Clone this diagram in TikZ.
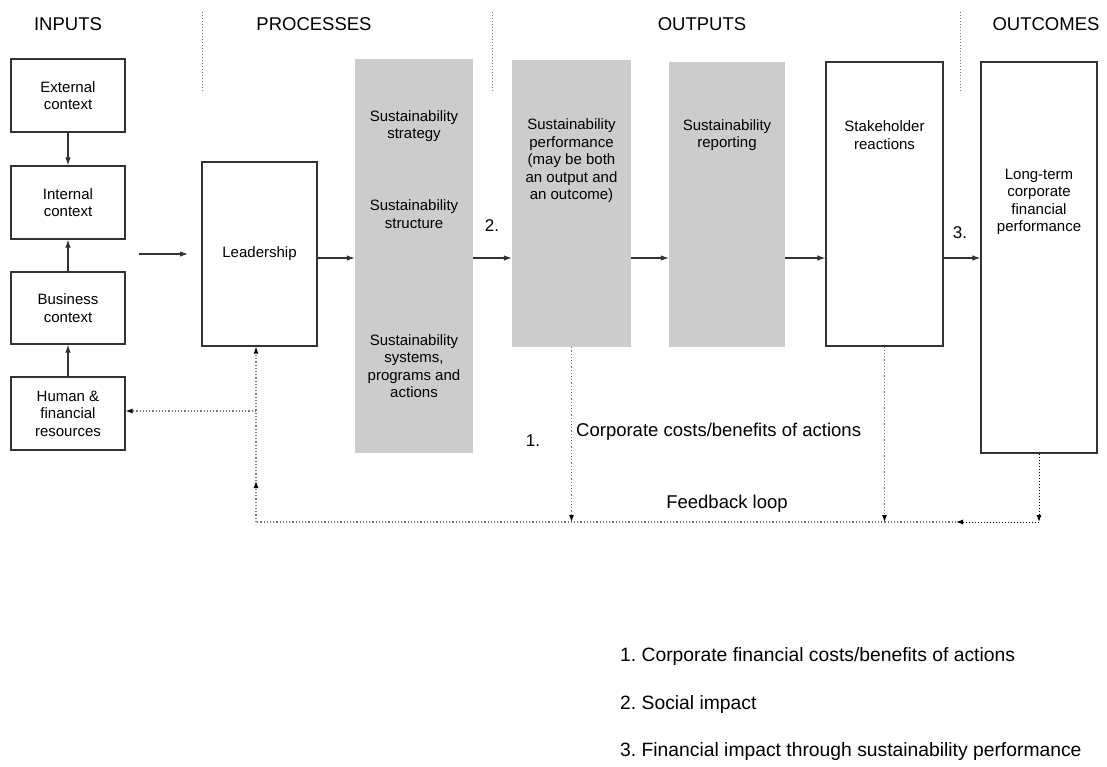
\documentclass[tikz,border=0pt]{standalone}
\usepackage{fontspec}
\setmainfont{Liberation Sans}
\usetikzlibrary{arrows.meta}
\frenchspacing
\definecolor{boxline}{HTML}{333333}
\definecolor{grayfill}{HTML}{CCCCCC}
\definecolor{dotgray}{HTML}{777777}
\tikzset{
  box/.style={draw=boxline, line width=1.2pt, fill=white, inner sep=0pt, align=center,
    font=\fontsize{15}{17.5}\selectfont},
  graybox/.style={fill=grayfill, draw=none, inner sep=0pt},
  btext/.style={align=center, inner sep=0pt, font=\fontsize{15}{17.5}\selectfont},
  heading/.style={inner sep=0pt, font=\fontsize{18.5}{22}\selectfont},
  bigtext/.style={inner sep=0pt, font=\fontsize{18.5}{22}\selectfont},
  numtext/.style={inner sep=0pt, font=\fontsize{17}{20}\selectfont},
  legend/.style={inner sep=0pt, anchor=west, font=\fontsize{19.3}{22}\selectfont},
  arr/.style={-{Latex[length=8pt,width=5.5pt]}, line width=1.1pt, draw=boxline},
  dotline/.style={draw=dotgray, line width=1.1pt, dash pattern=on 1.2pt off 2pt},
  dotblack/.style={draw=black, line width=1pt, dash pattern=on 1.2pt off 1.8pt},
  darr/.style={-{Latex[length=7pt,width=5pt,color=black]}},
  sep/.style={draw=dotgray, line width=1pt, dash pattern=on 1pt off 2pt}
}
\begin{document}
\begin{tikzpicture}[x=1pt,y=-1pt]
\useasboundingbox (0,0) rectangle (1107,767);

% headings
\node[heading] (hin) at (68,24) {INPUTS};
\node[heading] (hpr) at (314,24) {PROCESSES};
\node[heading] (hout) at (702,24) {OUTPUTS};
\node[heading] (hoc) at (1046,24) {OUTCOMES};
\draw[sep] (202,12) -- (202,93);
\draw[sep] (492,12) -- (492,93);
\draw[sep] (960,12) -- (960,93);

% inputs
\node[box, minimum width=114, minimum height=73] (ext) at (68,95.5) {External\\context};
\node[box, minimum width=114, minimum height=73] (int) at (68,202.5) {Internal\\context};
\node[box, minimum width=114, minimum height=72] (bus) at (68,308) {Business\\context};
\node[box, minimum width=114, minimum height=73] (hum) at (68,413.5) {Human \&\\financial\\resources};

\draw[arr] (ext) -- (int);
\draw[arr] (bus) -- (int);
\draw[arr] (hum) -- (bus);

\coordinate (fa) at (139,254);
\coordinate (fb) at (188,254);
\draw[arr] (fa) -- (fb);

% processes
\node[box, minimum width=115, minimum height=184] (lead) at (259.5,254) {Leadership};
\node[graybox, minimum width=118, minimum height=394] (g1) at (414,256) {};
\node[btext] (t1a) at (414,126) {Sustainability\\strategy};
\node[btext] (t1b) at (414,214) {Sustainability\\structure};
\node[btext] (t1c) at (414,366) {Sustainability\\systems,\\programs and\\actions};

% outputs
\node[graybox, minimum width=119, minimum height=287] (g2) at (571.5,203.5) {};
\node[btext] (t2) at (571.5,161) {Sustainability\\performance\\(may be both\\an output and\\an outcome)};
\node[graybox, minimum width=116, minimum height=285] (g3) at (727,204.5) {};
\node[btext] (t3) at (727,135) {Sustainability\\reporting};
\node[box, minimum width=117, minimum height=284] (sh) at (884.5,204) {};
\node[btext] (t4) at (884.5,135) {Stakeholder\\reactions};

% outcomes
\node[box, minimum width=116, minimum height=391] (lt) at (1039,257.5) {};
\node[btext] (t5) at (1039,202) {Long-term\\corporate\\financial\\performance};

% main arrows
\coordinate (ay) at (0,258);
\draw[arr] (lead.east |- ay) -- (g1.west |- ay);
\draw[arr] (g1.east |- ay) -- (g2.west |- ay);
\draw[arr] (g2.east |- ay) -- (g3.west |- ay);
\draw[arr] (g3.east |- ay) -- (sh.west |- ay);
\draw[arr] (sh.east |- ay) -- (lt.west |- ay);

\node[numtext] (n2) at (492,226) {2.};
\node[numtext] (n3) at (960,233) {3.};
\node[numtext] (n1) at (533,441) {1.};

% feedback
\coordinate (fl) at (256,522);
\coordinate (fm) at (956,522);
\coordinate (fu) at (256,481);
\coordinate (fbr) at (256,411);
\draw[dotline, darr] (g2.south) -- (g2.south |- fl);
\draw[dotline, darr] (sh.south) -- (sh.south |- fl);
\draw[dotline] (fm) -- (fl);
\draw[dotline, darr] (fl) -- (fu);
\draw[dotline, darr] (fu) -- (fu |- lead.south);
\draw[dotline, darr] (fbr) -- (hum.east |- fbr);
\draw[dotblack, darr] (lt.south) -- (lt.south |- fl);
\draw[dotblack, darr] (lt.south |- fl) -- (fm);

\node[bigtext, anchor=west] (cc) at (576,432) {Corporate costs/benefits of actions};
\node[bigtext] (fbl) at (727,504) {Feedback loop};

% legend
\node[legend] (l1) at (620,657) {1. Corporate financial costs/benefits of actions};
\node[legend] (l2) at (620,705) {2. Social impact};
\node[legend] (l3) at (620,752) {3. Financial impact through sustainability performance};
\end{tikzpicture}
\end{document}
